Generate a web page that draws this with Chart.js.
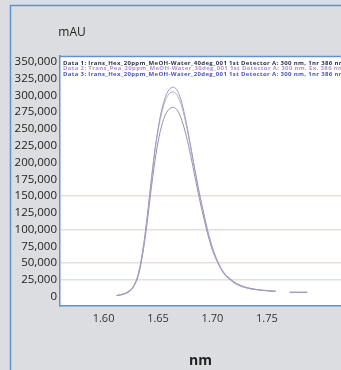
<!DOCTYPE html>
<html>
<head>
<meta charset="utf-8">
<script src="https://cdn.jsdelivr.net/npm/chart.js@4/dist/chart.umd.min.js"></script>
<style>
  html, body { margin: 0; padding: 0; background: #dcdde0; overflow: hidden; }
  #wrap { position: relative; width: 341px; height: 370px; }
  canvas { display: block; }
</style>
</head>
<body>
<div id="wrap"><canvas id="spectrum" width="341" height="370"></canvas></div>
<script>
// wavelength axis (nm) shared by every trace; null marks the break in the tail
const wavelengths = [1.612, 1.618, 1.624, 1.628, 1.632, 1.636, 1.640, 1.644, 1.648, 1.652,
  1.656, 1.660, 1.664, 1.668, 1.672, 1.676, 1.680, 1.684, 1.688, 1.692,
  1.696, 1.700, 1.705, 1.710, 1.716, 1.722, 1.730, 1.740, 1.750, 1.758,
  1.765, 1.771, 1.787];

const data1 = [2000, 4000, 9000, 17000, 34000, 68000, 117000, 176000, 229000, 268000,
  294000, 308000, 312000, 306000, 288000, 259000, 224000, 188000, 154000, 124000,
  96000, 73000, 52000, 37000, 27000, 20000, 14500, 11000, 9200, 8300,
  null, 6800, 6800];
const data2 = [2000, 4200, 9500, 17500, 35000, 69000, 118000, 176000, 227000, 264000,
  289000, 302000, 305000, 299000, 282000, 255000, 222000, 187000, 153000, 123000,
  95000, 72000, 51000, 36500, 26500, 19500, 14000, 10800, 9000, 8100,
  null, 6600, 6600];
const data3 = [1500, 3500, 8000, 16000, 32000, 64000, 110000, 164000, 211000, 246000,
  268000, 279000, 282000, 277000, 262000, 239000, 210000, 178000, 146000, 117000,
  91000, 69000, 50000, 35500, 25500, 18500, 13500, 10500, 8800, 7800,
  null, 6200, 6200];

const seriesLabels = [
  "Data 1: Irans_Hex_20ppm_MeOH-Water_40deg_001 1st Detector A: 300 nm, 1nr 386 nm",
  "Data 2: Trans_Pea_20ppm_MeOH-Water_30deg_001 1st Detector A: 300 nm, Ex. 386 nm",
  "Data 3: Irans_Hex_20ppm_MeOH-Water_20deg_001 1st Detector A: 300 nm, 1nr 386 nm"
];
const lineColors = ["#a39bc2", "#b8adc8", "#958fae"];
const labelColors = ["#2c3050", "#b48fd0", "#4b56bd"];

const xTicks = [1.60, 1.65, 1.70, 1.75];
const yTicks = [0, 25000, 50000, 75000, 100000, 125000, 150000, 175000, 200000,
  225000, 250000, 275000, 300000, 325000, 350000];
const gridValues = [25000, 50000, 100000, 150000];

const FRAME = "#5f93d0";
const FONT = "'Open Sans', 'DejaVu Sans', sans-serif";

function toPoints(values) {
  return wavelengths.map((x, i) => ({ x: x, y: values[i] }));
}

// page frame, white plot area, unit label and the run legend
const decorations = {
  id: "decorations",
  beforeDraw(chart) {
    const c = chart.ctx;
    const a = chart.chartArea;
    c.save();
    c.fillStyle = "#ffffff";
    c.fillRect(a.left, a.top, a.right - a.left, a.bottom - a.top);
    c.strokeStyle = FRAME;
    c.lineWidth = 1.5;
    c.beginPath();
    c.moveTo(10.5, 370);
    c.lineTo(10.5, 5.5);
    c.lineTo(chart.width, 5.5);
    c.stroke();
    c.beginPath();
    c.moveTo(a.left, a.top + 0.5);
    c.lineTo(a.right, a.top + 0.5);
    c.stroke();
    c.fillStyle = "#222";
    c.font = "12px " + FONT;
    c.textAlign = "center";
    c.textBaseline = "middle";
    c.fillText("mAU", 72, 33);
    c.restore();
  },
  afterDatasetsDraw(chart) {
    const c = chart.ctx;
    const a = chart.chartArea;
    c.save();
    c.font = "bold 6px " + FONT;
    c.letterSpacing = "0.35px";
    c.textAlign = "left";
    c.textBaseline = "middle";
    chart.data.datasets.forEach((ds, i) => {
      c.fillStyle = labelColors[i];
      c.fillText(ds.label, a.left + 3, a.top + 7 + i * 5.6);
    });
    c.restore();
  }
};

new Chart(document.getElementById("spectrum"), {
  type: "line",
  data: {
    datasets: [data1, data2, data3].map((values, i) => ({
      label: seriesLabels[i],
      data: toPoints(values),
      borderColor: lineColors[i],
      borderWidth: 1,
      pointRadius: 0,
      fill: false,
      spanGaps: false,
      cubicInterpolationMode: "monotone"
    }))
  },
  options: {
    responsive: false,
    animation: false,
    events: [],
    layout: { padding: { top: 56, left: 0, right: 0, bottom: 0 } },
    plugins: {
      legend: { display: false },
      tooltip: { enabled: false }
    },
    scales: {
      x: {
        type: "linear",
        min: 1.56,
        max: 1.818,
        afterBuildTicks: scale => { scale.ticks = xTicks.map(v => ({ value: v })); },
        afterFit: scale => { scale.height = 64; },
        grid: { display: false, drawTicks: false },
        border: { display: true, color: FRAME, width: 1.5 },
        ticks: {
          padding: 6,
          color: "#333",
          font: { family: FONT, size: 11 },
          callback: v => v.toFixed(2)
        },
        title: {
          display: true,
          text: "nm",
          color: "#222",
          font: { family: FONT, size: 14, weight: "bold" },
          padding: { top: 0, bottom: 1 }
        }
      },
      y: {
        min: -13800,
        max: 358500,
        afterBuildTicks: scale => { scale.ticks = yTicks.map(v => ({ value: v })); },
        afterFit: scale => { scale.width = 60; },
        grid: {
          drawTicks: false,
          lineWidth: 1.5,
          color: ctx => gridValues.includes(ctx.tick && ctx.tick.value) ? "#e6dfdc" : "rgba(0,0,0,0)"
        },
        border: { display: true, color: FRAME, width: 1.5 },
        ticks: {
          padding: 3,
          color: "#222",
          font: { family: FONT, size: 11.5 },
          callback: v => v.toLocaleString("en-US")
        }
      }
    }
  },
  plugins: [decorations]
});
</script>
</body>
</html>
